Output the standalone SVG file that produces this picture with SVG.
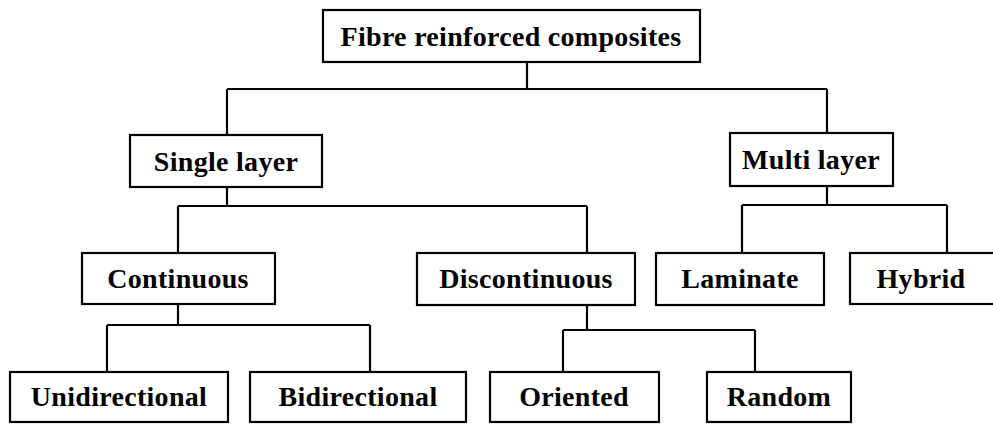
<svg xmlns="http://www.w3.org/2000/svg" width="993" height="424" viewBox="0 0 993 424">
<style>
rect{fill:#fff;stroke:#000;stroke-width:2.2}
text{font-family:"Liberation Serif","Times New Roman",serif;font-weight:bold;font-size:28px;letter-spacing:0.3px;text-anchor:middle;fill:#000}
#connectors path{fill:none;stroke:#000;stroke-width:2.2}
</style>
<rect x="0" y="0" width="993" height="424" style="stroke:none"/>
<g id="connectors">
<path d="M527,62V89M227,89H827M227,89V135M827,89V133"/>
<path d="M227,187V206M178,206H587M178,206V253M587,206V253"/>
<path d="M827,186V205M742,205H947M742,205V253M947,205V253"/>
<path d="M178,304V325M107,325H370M107,325V372M370,325V372"/>
<path d="M587,305V330M563,330H755M563,330V372M755,330V372"/>
</g>
<g id="root"><rect x="323" y="10" width="377" height="52"/><text x="511" y="46">Fibre reinforced composites</text></g>
<g id="single"><rect x="130" y="135" width="192" height="52"/><text x="226" y="171">Single layer</text></g>
<g id="multi"><rect x="730" y="133" width="163" height="53"/><text x="811" y="169">Multi layer</text></g>
<g id="continuous"><rect x="82" y="253" width="193" height="51"/><text x="178" y="288">Continuous</text></g>
<g id="discontinuous"><rect x="417" y="253" width="218" height="52"/><text x="526" y="288">Discontinuous</text></g>
<g id="laminate"><rect x="656" y="253" width="168" height="52"/><text x="740" y="288">Laminate</text></g>
<g id="hybrid"><rect x="850" y="253" width="150" height="51"/><text x="921" y="288">Hybrid</text></g>
<g id="unidirectional"><rect x="10" y="372" width="218" height="50"/><text x="119" y="406">Unidirectional</text></g>
<g id="bidirectional"><rect x="250" y="372" width="216" height="50"/><text x="358" y="406">Bidirectional</text></g>
<g id="oriented"><rect x="490" y="372" width="169" height="50"/><text x="574" y="406">Oriented</text></g>
<g id="random"><rect x="707" y="372" width="144" height="50"/><text x="779" y="406">Random</text></g>
</svg>
